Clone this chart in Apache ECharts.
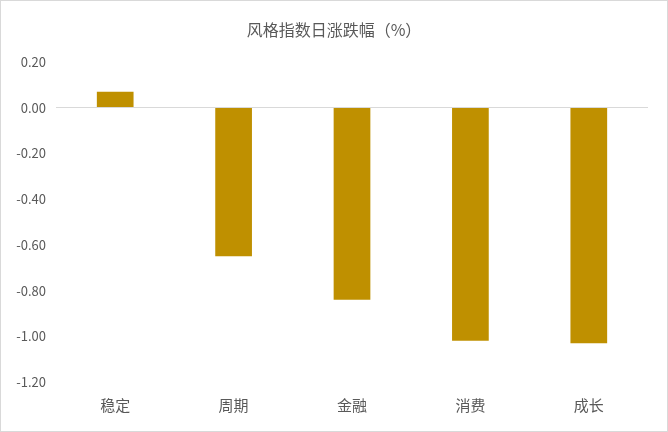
<!DOCTYPE html>
<html>
<head>
<meta charset="utf-8">
<script src="https://cdn.jsdelivr.net/npm/echarts@6/dist/echarts.min.js"></script>
<style>
  html, body { margin: 0; padding: 0; background: #fff; }
  #main { width: 668px; height: 432px; box-sizing: border-box; border: 1px solid #d9d9d9; }
</style>
</head>
<body>
<div id="main"></div>
<script>
var chartDom = document.getElementById('main');
var myChart = echarts.init(chartDom);
var option;

var categories = ['稳定', '周期', '金融', '消费', '成长'];
var values = [0.07, -0.65, -0.84, -1.02, -1.03];
var titleText = '风格指数日涨跌幅（%）';

option = {
    animation: false,
    textStyle: { fontFamily: '"Noto Sans CJK SC", "Noto Sans", sans-serif' },
    title: {
        text: titleText,
        left: 'center',
        top: 16,
        textStyle: { fontSize: 16, fontWeight: 'normal', color: '#595959' }
    },
    grid: { left: 55, right: 19, top: 61, bottom: 49 },
    xAxis: {
        type: 'category',
        data: categories,
        axisLine: { show: false, onZero: false },
        axisTick: { show: false },
        axisLabel: { color: '#595959', fontSize: 15, margin: 16 }
    },
    yAxis: {
        type: 'value',
        min: -1.2,
        max: 0.2,
        interval: 0.2,
        axisLine: { show: false },
        axisTick: { show: false },
        splitLine: { show: false },
        axisLabel: {
            color: '#595959',
            fontSize: 13,
            margin: 10,
            formatter: function (v) { return v.toFixed(2); }
        }
    },
    series: [{
        type: 'bar',
        data: values,
        barWidth: '31%',
        itemStyle: { color: '#bf9000' },
        markLine: {
            silent: true,
            symbol: 'none',
            label: { show: false },
            lineStyle: { color: '#d9d9d9', type: 'solid', width: 1 },
            data: [{ yAxis: 0 }]
        }
    }]
};

option && myChart.setOption(option);
</script>
</body>
</html>
